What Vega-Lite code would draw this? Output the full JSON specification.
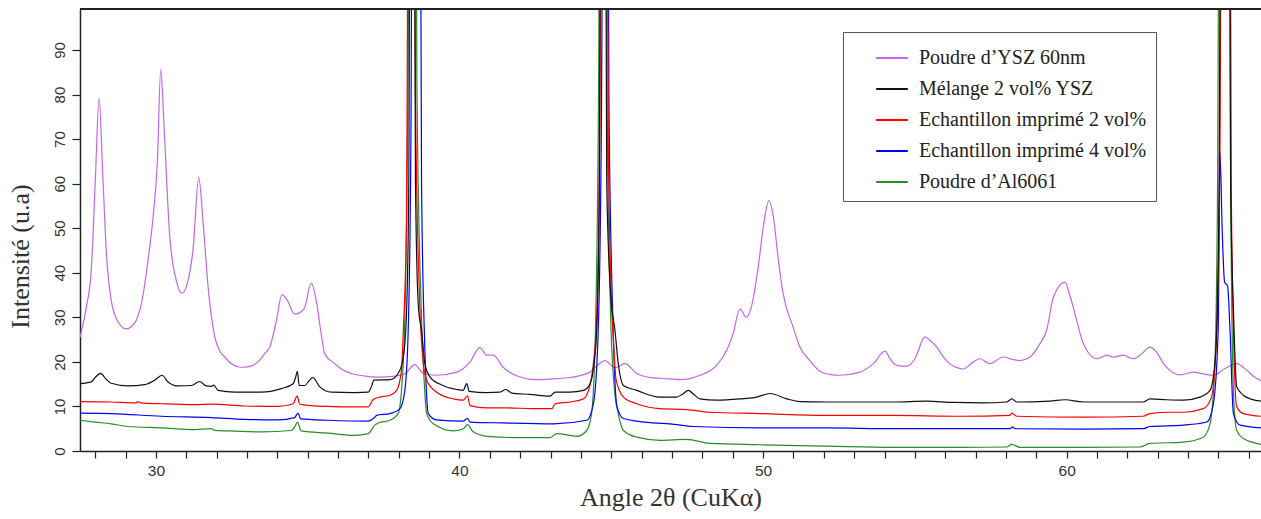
{
"$schema": "https://vega.github.io/schema/vega-lite/v6.json",
"width": 1181, "height": 442,
"autosize": {"type": "none"},
"padding": {"left": 80, "top": 9, "right": 0, "bottom": 68},
"background": "white",
"config": {"view": {"stroke": null}, "font": "Liberation Sans"},
"datasets": {"d": [
{"s":"P","x":27.5,"y":25.5},{"s":"P","x":27.7,"y":32},{"s":"P","x":27.87,"y":40.5},{"s":"P","x":28.0,"y":60},{"s":"P","x":28.13,"y":79.2},{"s":"P","x":28.25,"y":62},{"s":"P","x":28.37,"y":44.3},{"s":"P","x":28.53,"y":33.8},{"s":"P","x":28.75,"y":29},{"s":"P","x":29.03,"y":27.4},{"s":"P","x":29.2,"y":28},{"s":"P","x":29.35,"y":29.3},{"s":"P","x":29.55,"y":34},{"s":"P","x":29.74,"y":42.8},{"s":"P","x":29.9,"y":52},{"s":"P","x":30.05,"y":65.2},{"s":"P","x":30.16,"y":85.7},{"s":"P","x":30.27,"y":72.6},{"s":"P","x":30.45,"y":48.7},{"s":"P","x":30.67,"y":38.3},{"s":"P","x":30.86,"y":35.4},{"s":"P","x":31.06,"y":38.3},{"s":"P","x":31.23,"y":45.7},{"s":"P","x":31.41,"y":61.4},{"s":"P","x":31.55,"y":51.7},{"s":"P","x":31.72,"y":36.8},{"s":"P","x":31.94,"y":25.6},{"s":"P","x":32.1,"y":22.5},{"s":"P","x":32.27,"y":21.1},{"s":"P","x":32.5,"y":19.5},{"s":"P","x":32.81,"y":18.8},{"s":"P","x":33.1,"y":19.0},{"s":"P","x":33.36,"y":20.0},{"s":"P","x":33.6,"y":22},{"s":"P","x":33.75,"y":23.3},{"s":"P","x":33.97,"y":29.3},{"s":"P","x":34.15,"y":35.1},{"s":"P","x":34.33,"y":33.8},{"s":"P","x":34.57,"y":30.7},{"s":"P","x":34.88,"y":31.9},{"s":"P","x":35.12,"y":37.7},{"s":"P","x":35.28,"y":33.8},{"s":"P","x":35.45,"y":26},{"s":"P","x":35.56,"y":21.8},{"s":"P","x":35.89,"y":19.6},{"s":"P","x":36.2,"y":18},{"s":"P","x":36.44,"y":17.4},{"s":"P","x":36.9,"y":16.8},{"s":"P","x":37.32,"y":16.6},{"s":"P","x":37.87,"y":16.8},{"s":"P","x":38.2,"y":17.3},{"s":"P","x":38.53,"y":19.4},{"s":"P","x":38.81,"y":17.4},{"s":"P","x":39.25,"y":17.0},{"s":"P","x":39.91,"y":17.7},{"s":"P","x":40.35,"y":20.0},{"s":"P","x":40.67,"y":23.2},{"s":"P","x":40.9,"y":21.5},{"s":"P","x":41.11,"y":21.5},{"s":"P","x":41.44,"y":18.8},{"s":"P","x":41.99,"y":16.6},{"s":"P","x":42.54,"y":16.0},{"s":"P","x":43.1,"y":16.2},{"s":"P","x":43.64,"y":16.5},{"s":"P","x":44.3,"y":17.7},{"s":"P","x":44.79,"y":20.3},{"s":"P","x":45.12,"y":18.7},{"s":"P","x":45.45,"y":19.6},{"s":"P","x":45.84,"y":17.4},{"s":"P","x":46.38,"y":16.4},{"s":"P","x":46.93,"y":16.2},{"s":"P","x":47.26,"y":16.0},{"s":"P","x":47.92,"y":17.0},{"s":"P","x":48.47,"y":19.2},{"s":"P","x":48.8,"y":22.6},{"s":"P","x":49.0,"y":26},{"s":"P","x":49.24,"y":31.9},{"s":"P","x":49.44,"y":30.0},{"s":"P","x":49.6,"y":32},{"s":"P","x":49.84,"y":41.3},{"s":"P","x":50.0,"y":50},{"s":"P","x":50.19,"y":56.2},{"s":"P","x":50.35,"y":52},{"s":"P","x":50.5,"y":43},{"s":"P","x":50.66,"y":35.3},{"s":"P","x":50.99,"y":27.8},{"s":"P","x":51.2,"y":23.5},{"s":"P","x":51.54,"y":20.3},{"s":"P","x":51.87,"y":17.9},{"s":"P","x":52.2,"y":17.2},{"s":"P","x":52.53,"y":17.0},{"s":"P","x":53.19,"y":17.7},{"s":"P","x":53.63,"y":19.6},{"s":"P","x":54.01,"y":22.4},{"s":"P","x":54.2,"y":20.5},{"s":"P","x":54.4,"y":19.2},{"s":"P","x":54.73,"y":19.0},{"s":"P","x":55.0,"y":20.7},{"s":"P","x":55.33,"y":25.6},{"s":"P","x":55.5,"y":24.8},{"s":"P","x":55.72,"y":23.3},{"s":"P","x":55.95,"y":21},{"s":"P","x":56.16,"y":19.5},{"s":"P","x":56.49,"y":18.5},{"s":"P","x":56.6,"y":18.4},{"s":"P","x":56.92,"y":20.0},{"s":"P","x":57.14,"y":20.7},{"s":"P","x":57.47,"y":19.6},{"s":"P","x":57.91,"y":21.1},{"s":"P","x":58.2,"y":20.6},{"s":"P","x":58.46,"y":20.3},{"s":"P","x":58.79,"y":21.1},{"s":"P","x":59.12,"y":24.1},{"s":"P","x":59.34,"y":27.1},{"s":"P","x":59.56,"y":34.5},{"s":"P","x":59.94,"y":37.9},{"s":"P","x":60.1,"y":35},{"s":"P","x":60.33,"y":29.3},{"s":"P","x":60.5,"y":25},{"s":"P","x":60.66,"y":22.6},{"s":"P","x":60.99,"y":20.7},{"s":"P","x":61.32,"y":21.5},{"s":"P","x":61.54,"y":21.1},{"s":"P","x":61.86,"y":21.5},{"s":"P","x":62.19,"y":20.7},{"s":"P","x":62.47,"y":21.8},{"s":"P","x":62.74,"y":23.3},{"s":"P","x":62.96,"y":22.2},{"s":"P","x":63.2,"y":19.5},{"s":"P","x":63.4,"y":18.1},{"s":"P","x":63.74,"y":17.1},{"s":"P","x":64.17,"y":17.7},{"s":"P","x":64.5,"y":17.3},{"s":"P","x":64.83,"y":17.0},{"s":"P","x":65.21,"y":18.5},{"s":"P","x":65.6,"y":19.6},{"s":"P","x":65.93,"y":18.1},{"s":"P","x":66.15,"y":16.8},{"s":"P","x":66.4,"y":15.8},
{"s":"A","x":27.5,"y":6.9},{"s":"A","x":27.98,"y":6.5},{"s":"A","x":28.53,"y":6.1},{"s":"A","x":29.08,"y":5.5},{"s":"A","x":30.18,"y":5.2},{"s":"A","x":31.28,"y":4.8},{"s":"A","x":31.83,"y":5.0},{"s":"A","x":31.9,"y":4.7},{"s":"A","x":32.37,"y":4.5},{"s":"A","x":33.47,"y":4.3},{"s":"A","x":34.46,"y":4.6},{"s":"A","x":34.58,"y":5.5},{"s":"A","x":34.66,"y":6.5},{"s":"A","x":34.79,"y":4.5},{"s":"A","x":35.67,"y":4.0},{"s":"A","x":36.55,"y":3.5},{"s":"A","x":36.99,"y":3.9},{"s":"A","x":37.21,"y":5.8},{"s":"A","x":37.32,"y":6.3},{"s":"A","x":37.71,"y":6.9},{"s":"A","x":37.98,"y":8.4},{"s":"A","x":38.09,"y":13.6},{"s":"A","x":38.2,"y":30},{"s":"A","x":38.3,"y":80},{"s":"A","x":38.45,"y":300},{"s":"A","x":38.6,"y":80},{"s":"A","x":38.75,"y":30},{"s":"A","x":38.85,"y":14},{"s":"A","x":38.92,"y":8.4},{"s":"A","x":39.14,"y":6.1},{"s":"A","x":39.8,"y":4.5},{"s":"A","x":40.12,"y":5.0},{"s":"A","x":40.27,"y":5.9},{"s":"A","x":40.45,"y":4.3},{"s":"A","x":40.9,"y":3.3},{"s":"A","x":41.99,"y":3.0},{"s":"A","x":42.98,"y":3.0},{"s":"A","x":43.2,"y":3.9},{"s":"A","x":43.86,"y":3.3},{"s":"A","x":44.19,"y":4.6},{"s":"A","x":44.35,"y":8.4},{"s":"A","x":44.47,"y":25},{"s":"A","x":44.58,"y":80},{"s":"A","x":44.72,"y":300},{"s":"A","x":44.86,"y":80},{"s":"A","x":44.98,"y":30},{"s":"A","x":45.1,"y":14},{"s":"A","x":45.23,"y":8.4},{"s":"A","x":45.4,"y":4.6},{"s":"A","x":45.84,"y":3.1},{"s":"A","x":46.6,"y":2.4},{"s":"A","x":47.48,"y":2.6},{"s":"A","x":48.25,"y":1.7},{"s":"A","x":49.9,"y":1.4},{"s":"A","x":52.09,"y":1.1},{"s":"A","x":54.29,"y":0.8},{"s":"A","x":56.49,"y":0.8},{"s":"A","x":58.02,"y":0.9},{"s":"A","x":58.19,"y":1.5},{"s":"A","x":58.46,"y":0.8},{"s":"A","x":60.55,"y":0.8},{"s":"A","x":62.41,"y":0.9},{"s":"A","x":62.74,"y":1.7},{"s":"A","x":63.84,"y":2.0},{"s":"A","x":64.5,"y":3.1},{"s":"A","x":64.72,"y":6.1},{"s":"A","x":64.88,"y":19.6},{"s":"A","x":64.97,"y":60},{"s":"A","x":65.1,"y":300},{"s":"A","x":65.25,"y":300},{"s":"A","x":65.4,"y":60},{"s":"A","x":65.5,"y":12},{"s":"A","x":65.6,"y":4.6},{"s":"A","x":65.82,"y":2.8},{"s":"A","x":66.4,"y":1.5},
{"s":"E4","x":27.5,"y":8.5},{"s":"E4","x":28.53,"y":8.4},{"s":"E4","x":30.18,"y":7.8},{"s":"E4","x":31.83,"y":7.5},{"s":"E4","x":32.92,"y":7.1},{"s":"E4","x":34.02,"y":7.0},{"s":"E4","x":34.57,"y":7.5},{"s":"E4","x":34.68,"y":8.5},{"s":"E4","x":34.77,"y":7.2},{"s":"E4","x":35.67,"y":6.9},{"s":"E4","x":36.99,"y":6.7},{"s":"E4","x":37.21,"y":7.6},{"s":"E4","x":37.27,"y":8.0},{"s":"E4","x":37.71,"y":8.4},{"s":"E4","x":38.04,"y":9.5},{"s":"E4","x":38.2,"y":13.6},{"s":"E4","x":38.31,"y":27},{"s":"E4","x":38.4,"y":70},{"s":"E4","x":38.5,"y":300},{"s":"E4","x":38.62,"y":300},{"s":"E4","x":38.75,"y":60},{"s":"E4","x":38.85,"y":25},{"s":"E4","x":38.92,"y":12},{"s":"E4","x":38.97,"y":8.4},{"s":"E4","x":39.25,"y":7.0},{"s":"E4","x":40.12,"y":6.7},{"s":"E4","x":40.26,"y":7.3},{"s":"E4","x":40.35,"y":6.5},{"s":"E4","x":41.44,"y":6.3},{"s":"E4","x":43.09,"y":6.1},{"s":"E4","x":44.19,"y":6.9},{"s":"E4","x":44.41,"y":10.6},{"s":"E4","x":44.57,"y":27},{"s":"E4","x":44.68,"y":80},{"s":"E4","x":44.8,"y":300},{"s":"E4","x":44.92,"y":80},{"s":"E4","x":45.05,"y":30},{"s":"E4","x":45.19,"y":9.9},{"s":"E4","x":45.4,"y":7.3},{"s":"E4","x":46.38,"y":6.3},{"s":"E4","x":46.93,"y":6.1},{"s":"E4","x":47.7,"y":5.5},{"s":"E4","x":49.9,"y":5.2},{"s":"E4","x":52.09,"y":5.2},{"s":"E4","x":54.29,"y":5.0},{"s":"E4","x":56.49,"y":5.0},{"s":"E4","x":58.13,"y":5.0},{"s":"E4","x":58.22,"y":5.4},{"s":"E4","x":58.3,"y":5.0},{"s":"E4","x":60.55,"y":4.9},{"s":"E4","x":62.52,"y":5.0},{"s":"E4","x":62.74,"y":5.5},{"s":"E4","x":63.84,"y":5.8},{"s":"E4","x":64.61,"y":6.5},{"s":"E4","x":64.83,"y":10.6},{"s":"E4","x":64.99,"y":27},{"s":"E4","x":65.05,"y":67},{"s":"E4","x":65.12,"y":50},{"s":"E4","x":65.2,"y":38},{"s":"E4","x":65.3,"y":37},{"s":"E4","x":65.38,"y":27},{"s":"E4","x":65.49,"y":8.4},{"s":"E4","x":65.71,"y":5.8},{"s":"E4","x":66.4,"y":5.2},
{"s":"E2","x":27.5,"y":11.1},{"s":"E2","x":28.53,"y":11.0},{"s":"E2","x":29.35,"y":10.8},{"s":"E2","x":29.41,"y":11.1},{"s":"E2","x":29.5,"y":10.8},{"s":"E2","x":30.18,"y":10.6},{"s":"E2","x":31.28,"y":10.4},{"s":"E2","x":31.83,"y":10.5},{"s":"E2","x":32.92,"y":10.1},{"s":"E2","x":34.02,"y":10.0},{"s":"E2","x":34.52,"y":10.6},{"s":"E2","x":34.65,"y":12.3},{"s":"E2","x":34.74,"y":10.5},{"s":"E2","x":35.12,"y":10.2},{"s":"E2","x":35.67,"y":10.0},{"s":"E2","x":36.22,"y":9.9},{"s":"E2","x":36.99,"y":9.9},{"s":"E2","x":37.15,"y":11.5},{"s":"E2","x":37.32,"y":12.0},{"s":"E2","x":37.71,"y":12.5},{"s":"E2","x":37.93,"y":13.6},{"s":"E2","x":38.09,"y":18.1},{"s":"E2","x":38.15,"y":27.1},{"s":"E2","x":38.25,"y":50},{"s":"E2","x":38.4,"y":300},{"s":"E2","x":38.55,"y":80},{"s":"E2","x":38.68,"y":35},{"s":"E2","x":38.81,"y":19.6},{"s":"E2","x":38.92,"y":15.9},{"s":"E2","x":39.25,"y":13.2},{"s":"E2","x":39.8,"y":11.7},{"s":"E2","x":40.12,"y":11.4},{"s":"E2","x":40.26,"y":12.4},{"s":"E2","x":40.35,"y":10.2},{"s":"E2","x":40.9,"y":9.7},{"s":"E2","x":41.44,"y":9.7},{"s":"E2","x":42.54,"y":9.5},{"s":"E2","x":43.04,"y":9.5},{"s":"E2","x":43.15,"y":10.6},{"s":"E2","x":43.64,"y":11.0},{"s":"E2","x":44.08,"y":11.7},{"s":"E2","x":44.25,"y":13.6},{"s":"E2","x":44.41,"y":19.6},{"s":"E2","x":44.52,"y":30},{"s":"E2","x":44.62,"y":70},{"s":"E2","x":44.75,"y":300},{"s":"E2","x":44.9,"y":70},{"s":"E2","x":45.0,"y":35},{"s":"E2","x":45.07,"y":25},{"s":"E2","x":45.16,"y":15.9},{"s":"E2","x":45.4,"y":12.1},{"s":"E2","x":45.84,"y":10.6},{"s":"E2","x":46.6,"y":9.5},{"s":"E2","x":47.48,"y":9.3},{"s":"E2","x":48.25,"y":8.7},{"s":"E2","x":49.9,"y":8.4},{"s":"E2","x":52.09,"y":8.0},{"s":"E2","x":54.29,"y":8.0},{"s":"E2","x":56.49,"y":7.8},{"s":"E2","x":58.13,"y":8.0},{"s":"E2","x":58.19,"y":8.5},{"s":"E2","x":58.35,"y":7.8},{"s":"E2","x":60.55,"y":7.6},{"s":"E2","x":62.52,"y":7.8},{"s":"E2","x":62.74,"y":8.4},{"s":"E2","x":63.4,"y":8.7},{"s":"E2","x":63.84,"y":8.7},{"s":"E2","x":64.5,"y":9.5},{"s":"E2","x":64.77,"y":12.1},{"s":"E2","x":64.94,"y":27},{"s":"E2","x":65.05,"y":70},{"s":"E2","x":65.15,"y":300},{"s":"E2","x":65.3,"y":300},{"s":"E2","x":65.42,"y":60},{"s":"E2","x":65.5,"y":25},{"s":"E2","x":65.6,"y":9.9},{"s":"E2","x":65.82,"y":8.4},{"s":"E2","x":66.4,"y":7.8},
{"s":"M","x":27.5,"y":15.1},{"s":"M","x":27.87,"y":15.5},{"s":"M","x":28.0,"y":16.5},{"s":"M","x":28.18,"y":17.4},{"s":"M","x":28.35,"y":16.2},{"s":"M","x":28.53,"y":15.2},{"s":"M","x":29.08,"y":14.6},{"s":"M","x":29.63,"y":14.9},{"s":"M","x":29.96,"y":15.9},{"s":"M","x":30.2,"y":17.0},{"s":"M","x":30.4,"y":15.5},{"s":"M","x":30.73,"y":14.6},{"s":"M","x":31.17,"y":14.7},{"s":"M","x":31.44,"y":15.6},{"s":"M","x":31.66,"y":14.6},{"s":"M","x":31.83,"y":14.5},{"s":"M","x":31.9,"y":14.8},{"s":"M","x":32.05,"y":13.6},{"s":"M","x":32.6,"y":13.2},{"s":"M","x":33.47,"y":13.2},{"s":"M","x":34.13,"y":14.0},{"s":"M","x":34.52,"y":15.1},{"s":"M","x":34.6,"y":16.5},{"s":"M","x":34.66,"y":17.9},{"s":"M","x":34.72,"y":14.7},{"s":"M","x":34.9,"y":14.7},{"s":"M","x":35.05,"y":15.8},{"s":"M","x":35.17,"y":16.5},{"s":"M","x":35.4,"y":14.4},{"s":"M","x":35.78,"y":13.2},{"s":"M","x":36.55,"y":13.1},{"s":"M","x":36.99,"y":13.2},{"s":"M","x":37.1,"y":14.5},{"s":"M","x":37.18,"y":15.9},{"s":"M","x":37.71,"y":16.0},{"s":"M","x":37.98,"y":17.4},{"s":"M","x":38.15,"y":21.1},{"s":"M","x":38.25,"y":30},{"s":"M","x":38.33,"y":60},{"s":"M","x":38.42,"y":300},{"s":"M","x":38.55,"y":60},{"s":"M","x":38.65,"y":32},{"s":"M","x":38.75,"y":27.1},{"s":"M","x":38.86,"y":19.6},{"s":"M","x":39.03,"y":16.6},{"s":"M","x":39.46,"y":14.7},{"s":"M","x":39.91,"y":13.8},{"s":"M","x":40.12,"y":13.6},{"s":"M","x":40.24,"y":15.1},{"s":"M","x":40.32,"y":13.4},{"s":"M","x":40.9,"y":13.1},{"s":"M","x":41.33,"y":13.2},{"s":"M","x":41.53,"y":13.8},{"s":"M","x":41.72,"y":13.0},{"s":"M","x":42.32,"y":12.7},{"s":"M","x":42.98,"y":12.3},{"s":"M","x":43.15,"y":13.2},{"s":"M","x":43.64,"y":13.2},{"s":"M","x":44.08,"y":13.6},{"s":"M","x":44.3,"y":15.1},{"s":"M","x":44.43,"y":19.6},{"s":"M","x":44.52,"y":27.1},{"s":"M","x":44.6,"y":55},{"s":"M","x":44.72,"y":300},{"s":"M","x":44.85,"y":60},{"s":"M","x":44.98,"y":35},{"s":"M","x":45.12,"y":27.1},{"s":"M","x":45.23,"y":19.6},{"s":"M","x":45.4,"y":14.7},{"s":"M","x":45.84,"y":13.6},{"s":"M","x":46.6,"y":12.1},{"s":"M","x":47.15,"y":12.1},{"s":"M","x":47.35,"y":12.8},{"s":"M","x":47.54,"y":13.6},{"s":"M","x":47.7,"y":12.8},{"s":"M","x":47.92,"y":11.7},{"s":"M","x":48.47,"y":11.4},{"s":"M","x":49.24,"y":11.7},{"s":"M","x":49.79,"y":12.1},{"s":"M","x":50.23,"y":12.9},{"s":"M","x":50.78,"y":11.7},{"s":"M","x":51.22,"y":11.1},{"s":"M","x":52.09,"y":11.0},{"s":"M","x":53.19,"y":11.0},{"s":"M","x":54.29,"y":11.0},{"s":"M","x":55.39,"y":11.2},{"s":"M","x":56.26,"y":10.9},{"s":"M","x":57.25,"y":10.8},{"s":"M","x":58.02,"y":11.0},{"s":"M","x":58.19,"y":11.7},{"s":"M","x":58.35,"y":11.0},{"s":"M","x":59.45,"y":11.2},{"s":"M","x":59.94,"y":11.5},{"s":"M","x":60.55,"y":11.0},{"s":"M","x":61.64,"y":11.0},{"s":"M","x":62.52,"y":11.0},{"s":"M","x":62.74,"y":11.7},{"s":"M","x":63.29,"y":11.5},{"s":"M","x":63.84,"y":11.4},{"s":"M","x":64.39,"y":12.1},{"s":"M","x":64.72,"y":13.6},{"s":"M","x":64.88,"y":19.6},{"s":"M","x":64.94,"y":27.1},{"s":"M","x":65.02,"y":60},{"s":"M","x":65.15,"y":300},{"s":"M","x":65.28,"y":300},{"s":"M","x":65.4,"y":60},{"s":"M","x":65.5,"y":30},{"s":"M","x":65.6,"y":14.4},{"s":"M","x":65.82,"y":12.5},{"s":"M","x":66.1,"y":11.6},{"s":"M","x":66.4,"y":11.2}
]},
"data": {"name": "d"},
"layer": [
{"mark": {"type": "line", "strokeWidth": 1.2, "clip": true, "interpolate": "monotone"},
 "encoding": {
  "x": {"field": "x", "type": "quantitative",
   "scale": {"domain": [27.5, 66.4], "nice": false, "zero": false},
   "axis": {"title": "Angle 2θ (CuKα)",
    "values": [28,29,30,31,32,33,34,35,36,37,38,39,40,41,42,43,44,45,46,47,48,49,50,51,52,53,54,55,56,57,58,59,60,61,62,63,64,65,66],
    "labelExpr": "datum.value % 10 == 0 ? datum.label : ''",
    "grid": false, "domainColor": "#222", "domainWidth": 1.5, "tickColor": "#222", "tickSize": 7, "tickWidth": 1.2,
    "labelFont": "Liberation Sans", "labelFontSize": 15.5, "labelColor": "#333", "labelPadding": 5,
    "titleFont": "Liberation Serif", "titleFontSize": 26, "titleFontWeight": "normal", "titleColor": "#333", "titlePadding": 6}},
  "y": {"field": "y", "type": "quantitative",
   "scale": {"domain": [0, 99.2], "nice": false},
   "axis": {"title": "Intensité (u.a)",
    "values": [0,5,10,15,20,25,30,35,40,45,50,55,60,65,70,75,80,85,90,95],
    "labelExpr": "datum.value % 10 == 0 ? datum.label : ''",
    "labelAngle": -90, "labelAlign": "center", "labelBaseline": "bottom",
    "grid": false, "domainColor": "#222", "domainWidth": 1.5, "tickColor": "#222", "tickSize": 8, "tickWidth": 1.2,
    "labelFont": "Liberation Sans", "labelFontSize": 15, "labelColor": "#333", "labelPadding": 5,
    "titleFont": "Liberation Serif", "titleFontSize": 26, "titleFontWeight": "normal", "titleColor": "#333",
    "titleX": -60, "titleY": 247, "titleBaseline": "middle", "titleAlign": "center", "titleAngle": -90}},
  "color": {"field": "s", "type": "nominal",
   "scale": {"domain": ["P", "M", "E2", "E4", "A"], "range": ["#c466e8", "#111111", "#ff0000", "#0000ff", "#2a8c2a"]},
   "legend": {"orient": "none", "legendX": 763, "legendY": 23, "title": null,
    "labelExpr": "{'P': 'Poudre d’YSZ 60nm', 'M': 'Mélange 2 vol% YSZ', 'E2': 'Echantillon imprimé 2 vol%', 'E4': 'Echantillon imprimé 4 vol%', 'A': 'Poudre d’Al6061'}[datum.value]",
    "strokeColor": "#555", "fillColor": "white", "padding": 9,
    "symbolType": "stroke", "symbolStrokeWidth": 2, "symbolSize": 1000, "symbolOffset": 23,
    "labelFont": "Liberation Serif", "labelFontSize": 20, "labelColor": "#222", "labelOffset": 10, "labelLimit": 400,
    "rowPadding": 4}}
 }},
{"mark": {"type": "rule", "color": "#222", "strokeWidth": 1.5}, "encoding": {"y": {"datum": 99.2}}}
]
}
